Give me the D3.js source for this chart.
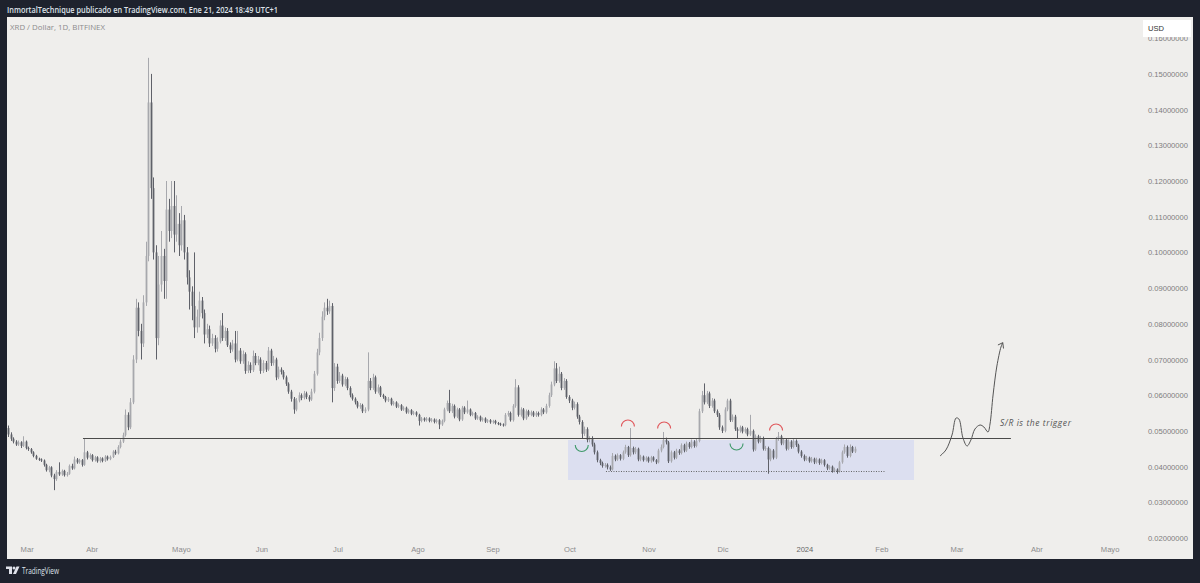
<!DOCTYPE html>
<html>
<head>
<meta charset="utf-8">
<script src="https://cdnjs.cloudflare.com/ajax/libs/d3/7.8.5/d3.min.js"></script>
<style>
  body { margin: 0; background: #1e222d; }
  svg { display: block; }
</style>
</head>
<body>
<svg id="chart" width="1200" height="583"></svg>
<script>
// daily candles XRD / Dollar (Bitfinex), open = previous close
var firstOpen = 0.0508;
var closes = [
  .0490,.0478,.0470,.0462,.0468,.0458,.0470,.0452,.0449,.0440,
  .0430,.0422,.0420,.0417,.0405,.0390,.0398,.0375,.0365,.0385,
  .0378,.0388,.0376,.0380,.0402,.0395,.0420,.0412,.0418,.0405,
  .0440,.0425,.0432,.0418,.0426,.0415,.0423,.0416,.0428,.0421,
  .0427,.0442,.0437,.0455,.0470,.0488,.0545,.0510,.0580,.0700,
  .0845,.0780,.0745,.0860,.0990,.1420,.1180,.1000,.0760,.0910,
  .0990,.0920,.1120,.1060,.1130,.1050,.1080,.1020,.1090,.1000,
  .0930,.0890,.0850,.0790,.0820,.0865,.0830,.0770,.0785,.0745,
  .0760,.0730,.0750,.0795,.0760,.0780,.0740,.0728,.0745,.0700,
  .0725,.0695,.0715,.0668,.0685,.0670,.0710,.0690,.0700,.0668,
  .0690,.0672,.0725,.0690,.0700,.0650,.0672,.0665,.0650,.0632,
  .0610,.0590,.0560,.0585,.0600,.0592,.0605,.0595,.0588,.0610,
  .0660,.0720,.0760,.0820,.0845,.0835,.0850,.0620,.0680,.0640,
  .0655,.0630,.0645,.0620,.0600,.0590,.0580,.0568,.0572,.0555,
  .0560,.0640,.0620,.0650,.0610,.0622,.0600,.0595,.0585,.0590,
  .0575,.0580,.0568,.0572,.0560,.0565,.0552,.0558,.0548,.0552,
  .0545,.0528,.0535,.0530,.0535,.0528,.0532,.0525,.0530,.0518,
  .0528,.0560,.0578,.0555,.0570,.0540,.0560,.0532,.0565,.0552,
  .0560,.0545,.0550,.0535,.0540,.0530,.0535,.0526,.0530,.0524,
  .0528,.0522,.0520,.0518,.0516,.0545,.0550,.0530,.0570,.0622,
  .0545,.0560,.0535,.0555,.0545,.0552,.0543,.0550,.0545,.0560,
  .0552,.0570,.0600,.0630,.0675,.0640,.0660,.0620,.0640,.0595,
  .0585,.0565,.0575,.0540,.0525,.0492,.0505,.0475,.0478,.0462,
  .0440,.0418,.0410,.0402,.0405,.0398,.0392,.0430,.0420,.0432,
  .0422,.0440,.0455,.0432,.0452,.0440,.0450,.0420,.0428,.0418,
  .0425,.0415,.0426,.0418,.0412,.0445,.0455,.0475,.0468,.0415,
  .0440,.0425,.0445,.0438,.0460,.0445,.0465,.0455,.0470,.0458,
  .0472,.0555,.0600,.0580,.0605,.0570,.0585,.0555,.0545,.0510,
  .0500,.0560,.0585,.0530,.0540,.0505,.0500,.0510,.0498,.0505,
  .0490,.0500,.0448,.0485,.0470,.0480,.0450,.0452,.0420,.0445,
  .0425,.0478,.0485,.0465,.0475,.0450,.0470,.0455,.0472,.0460,
  .0442,.0430,.0420,.0425,.0415,.0422,.0412,.0420,.0410,.0418,
  .0405,.0395,.0400,.0388,.0392,.0386,.0412,.0440,.0455,.0430,
  .0455,.0442,.0450
];
var highs = [
  .0515,.0496,.0482,.0474,.0473,.0471,.0485,.0473,.0456,.0452,
  .0443,.0433,.0425,.0423,.0420,.0408,.0402,.0401,.0380,.0390,
  .0412,.0392,.0391,.0385,.0406,.0408,.0428,.0424,.0422,.0421,
  .0479,.0444,.0437,.0435,.0430,.0429,.0427,.0426,.0432,.0431,
  .0431,.0446,.0447,.0460,.0476,.0495,.0560,.0552,.0592,.0712,
  .0870,.0860,.0800,.0880,.1030,.1545,.1500,.1210,.1020,.0990,
  .1060,.1010,.1200,.1150,.1200,.1200,.1160,.1110,.1130,.1105,
  .1015,.0950,.0905,.1000,.0840,.0890,.0875,.0840,.0800,.0795,
  .0772,.0768,.0762,.0810,.0830,.0790,.0788,.0748,.0755,.0780,
  .0780,.0732,.0725,.0720,.0695,.0692,.0725,.0718,.0710,.0706,
  .0698,.0696,.0735,.0730,.0710,.0705,.0680,.0678,.0670,.0655,
  .0636,.0615,.0595,.0592,.0608,.0605,.0612,.0610,.0600,.0618,
  .0668,.0730,.0775,.0835,.0860,.0870,.0865,.0858,.0690,.0688,
  .0665,.0660,.0652,.0650,.0625,.0605,.0594,.0584,.0578,.0576,
  .0566,.0720,.0648,.0660,.0655,.0630,.0626,.0604,.0598,.0595,
  .0593,.0584,.0583,.0577,.0575,.0569,.0568,.0562,.0561,.0556,
  .0555,.0548,.0539,.0538,.0539,.0538,.0536,.0535,.0534,.0533,
  .0532,.0565,.0585,.0615,.0576,.0574,.0565,.0564,.0570,.0569,
  .0585,.0563,.0554,.0553,.0544,.0543,.0538,.0538,.0533,.0533,
  .0531,.0531,.0525,.0523,.0521,.0550,.0556,.0554,.0575,.0645,
  .0628,.0566,.0564,.0560,.0559,.0557,.0556,.0555,.0554,.0566,
  .0564,.0576,.0607,.0638,.0695,.0690,.0680,.0665,.0648,.0645,
  .0600,.0590,.0582,.0580,.0545,.0530,.0512,.0510,.0485,.0485,
  .0467,.0445,.0422,.0414,.0410,.0409,.0403,.0438,.0434,.0437,
  .0435,.0445,.0461,.0458,.0508,.0456,.0455,.0453,.0433,.0431,
  .0429,.0428,.0430,.0429,.0421,.0450,.0462,.0497,.0481,.0472,
  .0445,.0444,.0450,.0449,.0465,.0464,.0470,.0469,.0476,.0474,
  .0478,.0562,.0612,.0633,.0612,.0610,.0592,.0590,.0560,.0550,
  .0515,.0566,.0590,.0590,.0546,.0545,.0510,.0515,.0514,.0510,
  .0509,.0545,.0504,.0490,.0489,.0486,.0484,.0458,.0456,.0450,
  .0449,.0483,.0497,.0489,.0480,.0479,.0476,.0474,.0477,.0476,
  .0464,.0446,.0434,.0430,.0428,.0427,.0425,.0425,.0423,.0422,
  .0421,.0408,.0404,.0403,.0397,.0395,.0416,.0445,.0462,.0459,
  .0462,.0458,.0456
];
var lows = [
  .0483,.0472,.0465,.0458,.0458,.0452,.0455,.0448,.0444,.0436,
  .0426,.0419,.0416,.0413,.0400,.0386,.0384,.0370,.0334,.0360,
  .0374,.0374,.0372,.0372,.0377,.0391,.0392,.0408,.0408,.0400,
  .0402,.0420,.0421,.0414,.0414,.0411,.0411,.0412,.0413,.0417,
  .0418,.0424,.0433,.0434,.0451,.0466,.0484,.0502,.0505,.0575,
  .0690,.0765,.0700,.0735,.0850,.0975,.1150,.0980,.0700,.0740,
  .0890,.0870,.0870,.1030,.1040,.1000,.1030,.0990,.1005,.0980,
  .0910,.0840,.0810,.0760,.0775,.0790,.0815,.0745,.0760,.0735,
  .0738,.0720,.0722,.0745,.0752,.0752,.0735,.0718,.0722,.0692,
  .0695,.0688,.0688,.0660,.0662,.0662,.0665,.0684,.0684,.0660,
  .0662,.0665,.0668,.0682,.0683,.0642,.0645,.0658,.0644,.0626,
  .0604,.0582,.0548,.0555,.0580,.0586,.0588,.0589,.0582,.0584,
  .0605,.0655,.0712,.0752,.0810,.0825,.0828,.0580,.0612,.0632,
  .0634,.0624,.0625,.0614,.0594,.0585,.0574,.0563,.0562,.0550,
  .0550,.0555,.0614,.0615,.0604,.0605,.0595,.0590,.0580,.0581,
  .0571,.0571,.0564,.0564,.0556,.0556,.0548,.0548,.0544,.0544,
  .0540,.0515,.0524,.0526,.0526,.0524,.0524,.0521,.0521,.0505,
  .0514,.0524,.0555,.0550,.0550,.0535,.0536,.0527,.0528,.0547,
  .0548,.0541,.0541,.0531,.0531,.0526,.0526,.0522,.0522,.0520,
  .0520,.0518,.0516,.0514,.0512,.0513,.0540,.0526,.0526,.0565,
  .0540,.0540,.0530,.0531,.0540,.0541,.0539,.0539,.0540,.0541,
  .0547,.0548,.0565,.0595,.0625,.0634,.0635,.0614,.0615,.0590,
  .0578,.0558,.0560,.0534,.0518,.0480,.0486,.0468,.0468,.0456,
  .0434,.0412,.0404,.0397,.0397,.0392,.0388,.0389,.0415,.0416,
  .0417,.0418,.0436,.0427,.0428,.0434,.0435,.0415,.0415,.0414,
  .0414,.0411,.0411,.0414,.0407,.0409,.0440,.0451,.0462,.0410,
  .0411,.0420,.0421,.0433,.0434,.0440,.0441,.0450,.0451,.0453,
  .0454,.0468,.0550,.0574,.0575,.0564,.0565,.0550,.0539,.0503,
  .0494,.0496,.0555,.0525,.0525,.0500,.0480,.0495,.0493,.0493,
  .0485,.0486,.0442,.0444,.0465,.0466,.0445,.0444,.0380,.0415,
  .0420,.0421,.0472,.0460,.0460,.0445,.0446,.0450,.0451,.0455,
  .0437,.0425,.0415,.0416,.0411,.0411,.0407,.0408,.0405,.0406,
  .0400,.0390,.0391,.0383,.0384,.0380,.0383,.0408,.0436,.0425,
  .0426,.0438,.0438
];

// axis labels
var monthLabels = ["Mar", "Abr", "Mayo", "Jun", "Jul", "Ago", "Sep", "Oct", "Nov", "Dic", "2024", "Feb", "Mar", "Abr", "Mayo"];
var monthBars = [7.5, 33, 68, 99.6, 129.4, 160.8, 190.2, 220.4, 251.4, 280.4, 312.5, 342.7, 372.2, 403.5, 432.2];
var priceTicks = [0.02, 0.03, 0.04, 0.05, 0.06, 0.07, 0.08, 0.09, 0.10, 0.11, 0.12, 0.13, 0.14, 0.15, 0.16];

// drawings (bar index, price)
var srLevel = 0.0479, srFrom = 29.4, srTo = 393.3;
var zoneBars = [219.6, 355.3], zonePrices = [0.04745, 0.03625];
var supportLevel = 0.0389, supportBars = [234.5, 344.3];
var topArcs = [[243.1, 0.05165], [257.3, 0.0511], [301.2, 0.05053]];
var bottomArcs = [[225, 0.04577], [285.7, 0.0462]];
var sketch = [[365.5, 0.04297], [367.8, 0.04465], [370.2, 0.04885], [371.8, 0.05361], [372.9, 0.05333],
  [374.5, 0.04801], [376.1, 0.04577], [377.6, 0.04745], [379.2, 0.05053], [381.2, 0.05165],
  [382.7, 0.05109], [384.3, 0.04969], [385.1, 0.05193], [386.3, 0.06006], [387.8, 0.06818],
  [389.4, 0.07350], [390.1, 0.07471]];
var arrowHead = [[388.2, 0.07406], [390.1, 0.07471], [390.4, 0.07308]];

var svg = d3.select("#chart");
var barStep = 2.55;
var x = d3.scaleLinear().domain([0, 332]).range([8, 8 + 332 * barStep]);
var y = d3.scaleLinear().domain([0.02, 0.16]).range([538, 38.2]);

var candles = closes.map(function (c, i) {
  return { i: i, o: i == 0 ? firstOpen : closes[i - 1], h: highs[i], l: lows[i], c: c };
});

// frame + panel
svg.append("rect").attr("width", 1200).attr("height", 583).attr("fill", "#1e222d");
svg.append("rect").attr("x", 7).attr("y", 17).attr("width", 1186).attr("height", 542).attr("fill", "#efeeec");

svg.append("text").attr("x", 7).attr("y", 13)
  .attr("font-family", "'Open Sans', sans-serif").attr("font-size", "9px").attr("font-weight", 600)
  .attr("fill", "#dfe2ea").attr("textLength", 271).attr("lengthAdjust", "spacingAndGlyphs")
  .text("InmortalTechnique publicado en TradingView.com, Ene 21, 2024 18:49 UTC+1");

svg.append("text").attr("x", 10).attr("y", 30)
  .attr("font-family", "'Open Sans', sans-serif").attr("font-size", "8px")
  .attr("fill", "#8c8c8c").attr("textLength", 95).attr("lengthAdjust", "spacingAndGlyphs")
  .text("XRD / Dollar, 1D, BITFINEX");

// right price axis
svg.append("g").selectAll("text").data(priceTicks).join("text")
  .attr("x", 1188).attr("y", function (d) { return y(d) + 3; })
  .attr("text-anchor", "end")
  .attr("font-family", "'Liberation Sans', sans-serif").attr("font-size", "7.6px")
  .attr("fill", "#7d7d7d")
  .text(function (d) { return d3.format(".8f")(d); });

svg.append("rect").attr("x", 1143).attr("y", 20).attr("width", 48).attr("height", 17).attr("fill", "#ffffff");
svg.append("text").attr("x", 1148).attr("y", 31)
  .attr("font-family", "'Liberation Sans', sans-serif").attr("font-size", "7.6px")
  .attr("fill", "#333").text("USD");

// time axis
svg.append("g").selectAll("text").data(monthLabels).join("text")
  .attr("x", function (d, i) { return x(monthBars[i]); }).attr("y", 552)
  .attr("text-anchor", "middle")
  .attr("font-family", "'Liberation Sans', sans-serif").attr("font-size", "7.6px")
  .attr("fill", function (d) { return d == "2024" ? "#666" : "#8c8c8c"; })
  .text(function (d) { return d; });

// zone box
svg.append("rect")
  .attr("x", x(zoneBars[0])).attr("y", y(zonePrices[0]))
  .attr("width", x(zoneBars[1]) - x(zoneBars[0]))
  .attr("height", y(zonePrices[1]) - y(zonePrices[0]))
  .attr("fill", "#dcdff0");

// candles
var upCol = "#a7a8ad", downCol = "#5f6169";
var cg = svg.append("g");
cg.selectAll("line").data(candles).join("line")
  .attr("x1", function (d) { return Math.round(x(d.i)) + 0.5; })
  .attr("x2", function (d) { return Math.round(x(d.i)) + 0.5; })
  .attr("y1", function (d) { return y(d.h); })
  .attr("y2", function (d) { return y(d.l); })
  .attr("stroke", function (d) { return d.c >= d.o ? upCol : downCol; })
  .attr("stroke-width", 1);
cg.selectAll("rect").data(candles).join("rect")
  .attr("x", function (d) { return Math.round(x(d.i)) - 0.4; })
  .attr("width", 1.8)
  .attr("y", function (d) { return y(Math.max(d.o, d.c)); })
  .attr("height", function (d) { return Math.max(1, Math.abs(y(d.o) - y(d.c))); })
  .attr("fill", function (d) { return d.c >= d.o ? upCol : downCol; });

// S/R line
svg.append("line")
  .attr("x1", x(srFrom)).attr("x2", x(srTo))
  .attr("y1", Math.round(y(srLevel)) + 0.5).attr("y2", Math.round(y(srLevel)) + 0.5)
  .attr("stroke", "#4a4a4a").attr("stroke-width", 1);

// dotted support
svg.append("line")
  .attr("x1", x(supportBars[0])).attr("x2", x(supportBars[1]))
  .attr("y1", Math.round(y(supportLevel)) + 0.5).attr("y2", Math.round(y(supportLevel)) + 0.5)
  .attr("stroke", "#666").attr("stroke-width", 1).attr("stroke-dasharray", "1,1.5");

// arcs
var r = 6.5;
svg.append("g").selectAll("path").data(topArcs).join("path")
  .attr("d", function (d) {
    var cx = x(d[0]), cy = y(d[1]);
    return "M" + (cx - r) + "," + (cy + 1.5) + " A" + r + "," + r + " 0 0 1 " + (cx + r) + "," + (cy + 1.5);
  })
  .attr("fill", "none").attr("stroke", "#e0575b").attr("stroke-width", 1.1);
svg.append("g").selectAll("path").data(bottomArcs).join("path")
  .attr("d", function (d) {
    var cx = x(d[0]), cy = y(d[1]);
    return "M" + (cx - r) + "," + (cy - 1) + " A" + r + "," + r + " 0 0 0 " + (cx + r) + "," + (cy - 1);
  })
  .attr("fill", "none").attr("stroke", "#3f9a6a").attr("stroke-width", 1.1);

// hand drawn path + arrow
var line = d3.line().x(function (d) { return x(d[0]); }).y(function (d) { return y(d[1]); });
svg.append("path").attr("d", line.curve(d3.curveCatmullRom)(sketch))
  .attr("fill", "none").attr("stroke", "#555").attr("stroke-width", 1);
svg.append("path").attr("d", d3.line().x(function (d) { return x(d[0]); }).y(function (d) { return y(d[1]); })(arrowHead))
  .attr("fill", "none").attr("stroke", "#555").attr("stroke-width", 1);

svg.append("text").attr("x", 1000).attr("y", 426)
  .attr("font-family", "'Open Sans', sans-serif").attr("font-size", "8.5px").attr("font-style", "italic")
  .attr("fill", "#555").attr("textLength", 71).attr("lengthAdjust", "spacing")
  .text("S/R is the trigger");

// footer logo
var logo = svg.append("g").attr("fill", "#dfe2ea");
logo.append("path").attr("d", "M6,566.5h6v7.5h-3v-5h-3z");
logo.append("circle").attr("cx", 14).attr("cy", 568).attr("r", 1.5);
logo.append("path").attr("d", "M13,574l3.5,-7.5h3l-3.5,7.5z");
svg.append("text").attr("x", 22).attr("y", 573.5)
  .attr("font-family", "'Open Sans', sans-serif").attr("font-size", "8.5px")
  .attr("fill", "#dfe2ea").attr("textLength", 37).attr("lengthAdjust", "spacingAndGlyphs")
  .text("TradingView");
</script>
</body>
</html>
